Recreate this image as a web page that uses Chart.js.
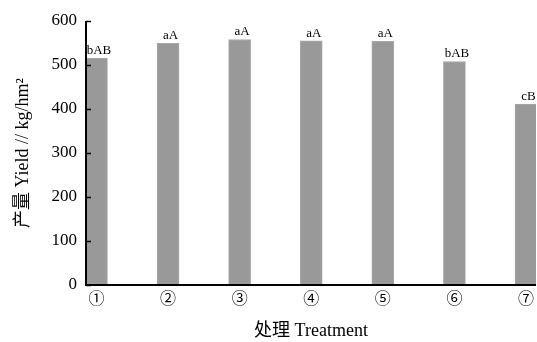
<!DOCTYPE html>
<html>
<head>
<meta charset="utf-8">
<script src="https://cdn.jsdelivr.net/npm/chart.js@4/dist/chart.umd.min.js"></script>
<style>
  html, body { margin: 0; padding: 0; background: #fff; }
  #wrap { width: 537px; height: 342px; }
</style>
</head>
<body>
<div id="wrap"><canvas id="chart" width="537" height="342"></canvas></div>
<script>
// ===== DATA =====
const treatments = ["①", "②", "③", "④", "⑤", "⑥", "⑦"];
const yieldValues = [516, 549, 558, 555, 554, 508, 411];
const sigLetters = ["bAB", "aA", "aA", "aA", "aA", "bAB", "cB"];
const yTicks = [0, 100, 200, 300, 400, 500, 600];

const serif = "'Liberation Serif', 'Noto Sans CJK SC', serif";

// ===== PLUGINS =====
// axis lines on top of bars, short inward ticks, letters above bars
const overlay = {
  id: "overlay",
  afterDatasetsDraw(chart) {
    const ctx = chart.ctx;
    const y = chart.scales.y;
    const x = chart.scales.x;
    ctx.save();
    ctx.strokeStyle = "#000";
    ctx.lineWidth = 2;
    ctx.beginPath();
    ctx.moveTo(x.left, y.top);
    ctx.lineTo(x.left, y.bottom);
    ctx.lineTo(x.right, y.bottom);
    ctx.stroke();
    ctx.lineWidth = 1.5;
    yTicks.forEach(v => {
      const py = Math.round(y.getPixelForValue(v)) + 0.5;
      ctx.beginPath();
      ctx.moveTo(x.left, py);
      ctx.lineTo(x.left + 5, py);
      ctx.stroke();
    });
    // letters
    ctx.fillStyle = "#000";
    ctx.font = "13px " + serif;
    ctx.textAlign = "center";
    ctx.textBaseline = "bottom";
    const meta = chart.getDatasetMeta(0);
    meta.data.forEach((bar, i) => {
      ctx.fillText(sigLetters[i], bar.x + 2.5, bar.y - 1);
    });
    ctx.restore();
  }
};

// ===== CHART =====
new Chart(document.getElementById("chart"), {
  type: "bar",
  data: {
    datasets: [{
      data: yieldValues.map((v, i) => ({ x: i, y: v })),
      backgroundColor: "#999999",
      borderColor: "#a8a8a8",
      borderWidth: 1,
      barThickness: 22
    }]
  },
  options: {
    responsive: false,
    animation: false,
    layout: { padding: { top: 21, right: 0, left: 0, bottom: 0 } },
    plugins: { legend: { display: false }, tooltip: { enabled: false } },
    scales: {
      x: {
        type: "linear",
        offset: false,
        min: -0.146,
        max: 6.14,
        afterBuildTicks(scale) {
          scale.ticks = treatments.map((t, i) => ({ value: i }));
        },
        afterFit(scale) { scale.height = 57; },
        ticks: {
          color: "#000",
          font: { family: "'Noto Sans CJK SC', serif", size: 16 },
          padding: 3,
          callback: (v) => treatments[v] || ""
        },
        grid: { display: false, drawTicks: false, offset: false },
        border: { display: false },
        title: {
          display: true,
          text: "处理 Treatment",
          color: "#000",
          font: { family: serif, size: 18 },
          padding: { top: 8, bottom: 0 }
        }
      },
      y: {
        min: 0,
        max: 600,
        afterBuildTicks(scale) {
          scale.ticks = yTicks.map(v => ({ value: v }));
        },
        afterFit(scale) { scale.width = 86; },
        ticks: {
          color: "#000",
          font: { family: serif, size: 17 },
          padding: 9
        },
        grid: { display: false, drawTicks: false },
        border: { display: false },
        title: {
          display: true,
          text: "产量 Yield // kg/hm²",
          color: "#000",
          font: { family: serif, size: 18 },
          padding: { top: 12, bottom: 0 }
        }
      }
    }
  },
  plugins: [overlay]
});
</script>
</body>
</html>
